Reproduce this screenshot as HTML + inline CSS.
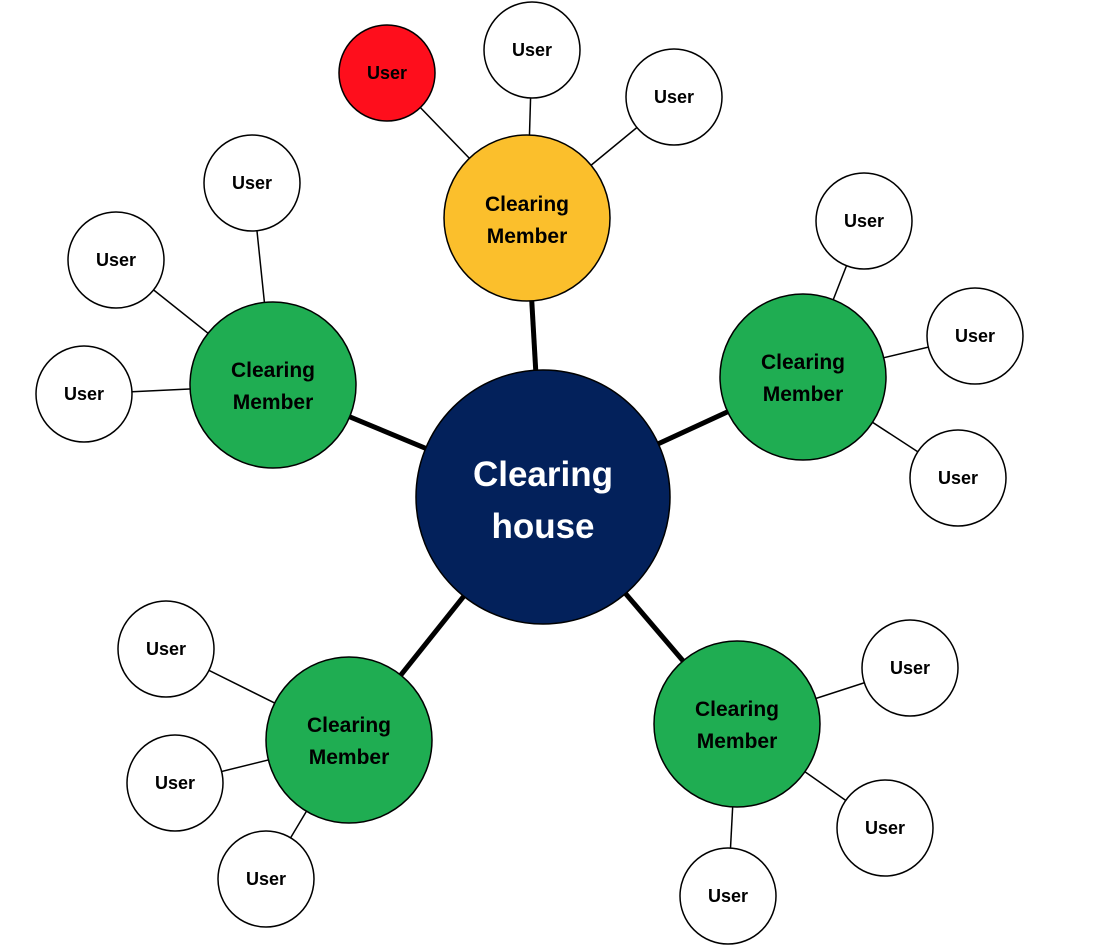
<!DOCTYPE html>
<html><head><meta charset="utf-8"><style>
html,body{margin:0;padding:0;background:#fff;}
svg{display:block}
text{font-family:"Liberation Sans",sans-serif;font-weight:bold;text-anchor:middle;}
</style></head><body>
<svg width="1112" height="952" viewBox="0 0 1112 952">
<g stroke="#000" stroke-width="5">
<line x1="543" y1="497" x2="527" y2="218"/>
<line x1="543" y1="497" x2="273" y2="385"/>
<line x1="543" y1="497" x2="803" y2="377"/>
<line x1="543" y1="497" x2="349" y2="740"/>
<line x1="543" y1="497" x2="737" y2="724"/>
</g>
<g stroke="#000" stroke-width="1.5">
<line x1="527" y1="218" x2="387" y2="73"/>
<line x1="527" y1="218" x2="532" y2="50"/>
<line x1="527" y1="218" x2="674" y2="97"/>
<line x1="273" y1="385" x2="252" y2="183"/>
<line x1="273" y1="385" x2="116" y2="260"/>
<line x1="273" y1="385" x2="84" y2="394"/>
<line x1="803" y1="377" x2="864" y2="221"/>
<line x1="803" y1="377" x2="975" y2="336"/>
<line x1="803" y1="377" x2="958" y2="478"/>
<line x1="349" y1="740" x2="166" y2="649"/>
<line x1="349" y1="740" x2="175" y2="783"/>
<line x1="349" y1="740" x2="266" y2="879"/>
<line x1="737" y1="724" x2="910" y2="668"/>
<line x1="737" y1="724" x2="885" y2="828"/>
<line x1="737" y1="724" x2="728" y2="896"/>
</g>
<g stroke="#000" stroke-width="1.5">
<circle cx="543" cy="497" r="127" fill="#03215b"/>
<circle cx="527" cy="218" r="83" fill="#fbbf2c"/>
<circle cx="273" cy="385" r="83" fill="#1fad52"/>
<circle cx="803" cy="377" r="83" fill="#1fad52"/>
<circle cx="349" cy="740" r="83" fill="#1fad52"/>
<circle cx="737" cy="724" r="83" fill="#1fad52"/>
<circle cx="387" cy="73" r="48" fill="#fe0e1c"/>
<circle cx="532" cy="50" r="48" fill="#fff"/>
<circle cx="674" cy="97" r="48" fill="#fff"/>
<circle cx="252" cy="183" r="48" fill="#fff"/>
<circle cx="116" cy="260" r="48" fill="#fff"/>
<circle cx="84" cy="394" r="48" fill="#fff"/>
<circle cx="864" cy="221" r="48" fill="#fff"/>
<circle cx="975" cy="336" r="48" fill="#fff"/>
<circle cx="958" cy="478" r="48" fill="#fff"/>
<circle cx="166" cy="649" r="48" fill="#fff"/>
<circle cx="175" cy="783" r="48" fill="#fff"/>
<circle cx="266" cy="879" r="48" fill="#fff"/>
<circle cx="910" cy="668" r="48" fill="#fff"/>
<circle cx="885" cy="828" r="48" fill="#fff"/>
<circle cx="728" cy="896" r="48" fill="#fff"/>
</g>
<g fill="#fff" font-size="35"><text x="543" y="486">Clearing</text><text x="543" y="538">house</text></g>
<g fill="#000" font-size="21">
<text x="527" y="211">Clearing</text><text x="527" y="243">Member</text>
<text x="273" y="377">Clearing</text><text x="273" y="409">Member</text>
<text x="803" y="369">Clearing</text><text x="803" y="401">Member</text>
<text x="349" y="732">Clearing</text><text x="349" y="764">Member</text>
<text x="737" y="716">Clearing</text><text x="737" y="748">Member</text>
</g>
<g fill="#000" font-size="18">
<text x="387" y="79">User</text><text x="532" y="56">User</text><text x="674" y="103">User</text>
<text x="252" y="189">User</text><text x="116" y="266">User</text><text x="84" y="400">User</text>
<text x="864" y="227">User</text><text x="975" y="342">User</text><text x="958" y="484">User</text>
<text x="166" y="655">User</text><text x="175" y="789">User</text><text x="266" y="885">User</text>
<text x="910" y="674">User</text><text x="885" y="834">User</text><text x="728" y="902">User</text>
</g>
</svg>
</body></html>
